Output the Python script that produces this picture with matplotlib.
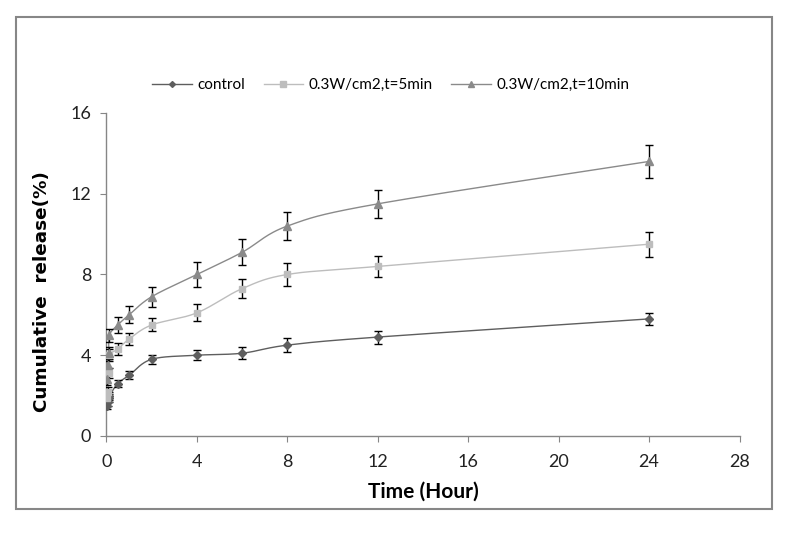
import numpy as np
import matplotlib
matplotlib.use("Agg")
import matplotlib.pyplot as plt
from matplotlib.patches import Rectangle

#%% Data

time_h = [0.033, 0.067, 0.1, 0.133, 0.5, 1, 2, 4, 6, 8, 12, 24]

control = [1.5, 1.7, 1.9, 2.0, 2.6, 3.0, 3.8, 4.0, 4.1, 4.5, 4.9, 5.8]
control_err = [0.15, 0.2, 0.2, 0.2, 0.15, 0.2, 0.22, 0.25, 0.3, 0.35, 0.32, 0.3]

min5 = [1.9, 2.2, 3.1, 4.0, 4.3, 4.8, 5.5, 6.1, 7.3, 8.0, 8.4, 9.5]
min5_err = [0.2, 0.25, 0.25, 0.3, 0.3, 0.3, 0.32, 0.42, 0.48, 0.55, 0.5, 0.62]

min10 = [2.8, 3.5, 4.1, 5.0, 5.5, 6.0, 6.9, 8.0, 9.1, 10.4, 11.5, 13.6]
min10_err = [0.25, 0.3, 0.3, 0.32, 0.38, 0.42, 0.5, 0.6, 0.65, 0.7, 0.7, 0.8]

labels = ["control", "0.3W/cm2,t=5min", "0.3W/cm2,t=10min"]
x_ticks = [0, 4, 8, 12, 16, 20, 24, 28]
y_ticks = [0, 4, 8, 12, 16]


def smooth_line(x, y, n=30):
    # Catmull-Rom style curve through the points (like Excel "smoothed line")
    x = np.asarray(x, float)
    y = np.asarray(y, float)
    px = np.concatenate([[x[0]], x, [x[-1]]])
    py = np.concatenate([[y[0]], y, [y[-1]]])
    xs, ys = [], []
    for i in range(1, len(px) - 2):
        p0, p1, p2, p3 = (np.array([px[j], py[j]]) for j in range(i - 1, i + 3))
        c1 = p1 + (p2 - p0) / 6.0
        c2 = p2 - (p3 - p1) / 6.0
        t = np.linspace(0, 1, n)[:, None]
        pts = ((1 - t) ** 3) * p1 + 3 * ((1 - t) ** 2) * t * c1 \
            + 3 * (1 - t) * t ** 2 * c2 + t ** 3 * p2
        xs.append(pts[:, 0])
        ys.append(pts[:, 1])
    return np.concatenate(xs), np.concatenate(ys)


#%% Figure

plt.rcParams['font.family'] = ['Lato', 'DejaVu Sans']

fig = plt.figure(figsize=(7.87, 5.37), dpi=100)
ax = fig.add_axes([0.1353, 0.1881, 0.8044, 0.6015])

series = [
    (control, control_err, "#5e5e5e", "D", 4),
    (min5, min5_err, "#bdbdbd", "s", 5),
    (min10, min10_err, "#8a8a8a", "^", 5.5),
]

handles = []
for (vals, errs, col, mk, ms), lab in zip(series, labels):
    sx, sy = smooth_line(time_h, vals)
    ax.plot(sx, sy, color=col, lw=1.0, zorder=2)
    ax.errorbar(time_h, vals, yerr=errs, fmt="none", ecolor="black",
                elinewidth=1.0, capsize=3, capthick=1.0, zorder=3)
    ax.plot(time_h, vals, linestyle="none", marker=mk, ms=ms, color=col,
            zorder=4)
    h, = ax.plot([], [], color=col, lw=1.0, marker=mk, ms=ms - 1, label=lab)
    handles.append(h)

ax.set_xlim(0, 28)
ax.set_ylim(0, 16)
ax.set_xticks(x_ticks)
ax.set_yticks(y_ticks)
ax.tick_params(direction="out", length=4, color="#868686", labelsize=13,
               labelcolor="#222222")
ax.tick_params(axis="x", pad=9)
ax.tick_params(axis="y", pad=7)

for s in ["top", "right"]:
    ax.spines[s].set_visible(False)
for s in ["left", "bottom"]:
    ax.spines[s].set_color("#868686")
    ax.spines[s].set_linewidth(1.0)

ax.set_xlabel("Time (Hour)", fontsize=15, fontweight="bold", labelpad=8)
ax.set_ylabel("Cumulative  release(%)", fontsize=13.2, fontweight="bold",
              family="DejaVu Sans")
ax.yaxis.set_label_coords(-0.088, 0.446)

ax.legend(handles=handles, loc="center", bbox_to_anchor=(0.449, 1.087),
          ncol=3, frameon=False, fontsize=11, handlelength=2.6,
          columnspacing=1.2, handletextpad=0.35)

# outer chart frame
fig.patches.append(Rectangle((0.0203, 0.0521), 0.9606, 0.9162,
                             transform=fig.transFigure, fill=False,
                             edgecolor="#878787", lw=1.5))

fig.savefig("out.png", dpi=100)
